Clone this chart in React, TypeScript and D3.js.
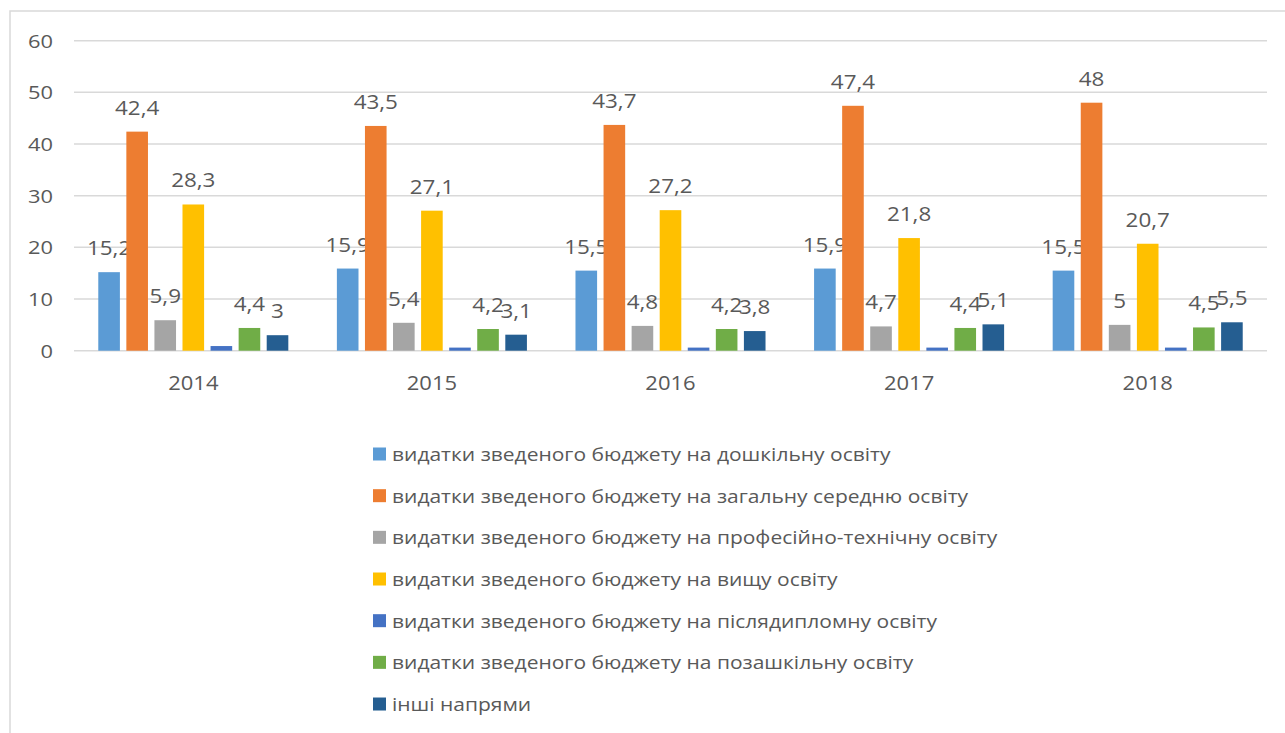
import React from "react";
import * as d3 from "d3";

const years = ["2014", "2015", "2016", "2017", "2018"];
const seriesNames = [
  "видатки зведеного бюджету на дошкільну освіту",
  "видатки зведеного бюджету на загальну середню освіту",
  "видатки зведеного бюджету на професійно-технічну освіту",
  "видатки зведеного бюджету на вищу освіту",
  "видатки зведеного бюджету на післядипломну освіту",
  "видатки зведеного бюджету на позашкільну освіту",
  "інші напрями",
];
const preschool = [15.2, 15.9, 15.5, 15.9, 15.5];
const generalSecondary = [42.4, 43.5, 43.7, 47.4, 48];
const vocational = [5.9, 5.4, 4.8, 4.7, 5];
const higher = [28.3, 27.1, 27.2, 21.8, 20.7];
const postgraduate = [0.9, 0.6, 0.6, 0.6, 0.6];
const extracurricular = [4.4, 4.2, 4.2, 4.4, 4.5];
const other = [3, 3.1, 3.8, 5.1, 5.5];
const seriesValues = [preschool, generalSecondary, vocational, higher, postgraduate, extracurricular, other];
const showLabels = [true, true, true, true, false, true, true];
const colors = ["#5B9BD5", "#ED7D31", "#A5A5A5", "#FFC000", "#4472C4", "#70AD47", "#255E91"];
const yTicks = [0, 10, 20, 30, 40, 50, 60];

const fmt = (v: number) => String(v).replace(".", ",");
const FONT = "'Open Sans', 'Liberation Sans', sans-serif";
const TEXT = "#595959";

function SText(props: { x: number; y: number; sx: number; size: number; anchor?: string; children: React.ReactNode }) {
  const { x, y, sx, size, anchor = "start", children } = props;
  return (
    <text
      transform={`translate(${x},${y}) scale(${sx},1)`}
      textAnchor={anchor as any}
      fontSize={size}
      fill={TEXT}
    >
      {children}
    </text>
  );
}

export default function App() {
  const left = 74, right = 1267, top = 40.7, bottom = 350.7;
  const x0 = d3.scaleBand<string>().domain(years).range([left, right]).paddingInner(0).paddingOuter(0);
  const x1 = d3
    .scaleBand<number>()
    .domain(d3.range(seriesNames.length))
    .range([0, x0.bandwidth()])
    .paddingInner(0.23)
    .paddingOuter(0.23 / 2 + 0.75);
  const y = d3.scaleLinear().domain([0, 60]).range([bottom, top]);

  return (
    <svg
      width={1285}
      height={733}
      style={{ position: "absolute", left: 0, top: 0, background: "#fff" }}
      fontFamily={FONT}
    >
      <rect x={10} y={11} width={1290} height={740} fill="#fff" stroke="#D9D9D9" strokeWidth={1.5} />
      {yTicks.map((t) => (
        <g key={t}>
          <line x1={left} x2={right} y1={y(t)} y2={y(t)} stroke="#D9D9D9" strokeWidth={1.5} />
          <SText x={53} y={y(t) + 6.8} sx={1.15} size={19} anchor="end">
            {t}
          </SText>
        </g>
      ))}
      {years.map((yr, i) => (
        <g key={yr}>
          {seriesValues.map((vals, s) => {
            const bx = (x0(yr) as number) + (x1(s) as number);
            const bw = x1.bandwidth();
            const v = vals[i];
            return (
              <g key={s}>
                <rect x={bx} y={y(v)} width={bw} height={y(0) - y(v)} fill={colors[s]} />
                {showLabels[s] && (
                  <SText x={bx + bw / 2} y={y(v) - 17} sx={1.15} size={19.5} anchor="middle">
                    {fmt(v)}
                  </SText>
                )}
              </g>
            );
          })}
          <SText x={(x0(yr) as number) + x0.bandwidth() / 2} y={389.5} sx={1.1} size={20} anchor="middle">
            {yr}
          </SText>
        </g>
      ))}
      {seriesNames.map((name, s) => {
        const cy = 454 + s * 41.67;
        return (
          <g key={name}>
            <rect x={373} y={cy - 6.5} width={13} height={13} fill={colors[s]} />
            <SText x={392} y={cy + 7} sx={1.105} size={19}>
              {name}
            </SText>
          </g>
        );
      })}
    </svg>
  );
}
